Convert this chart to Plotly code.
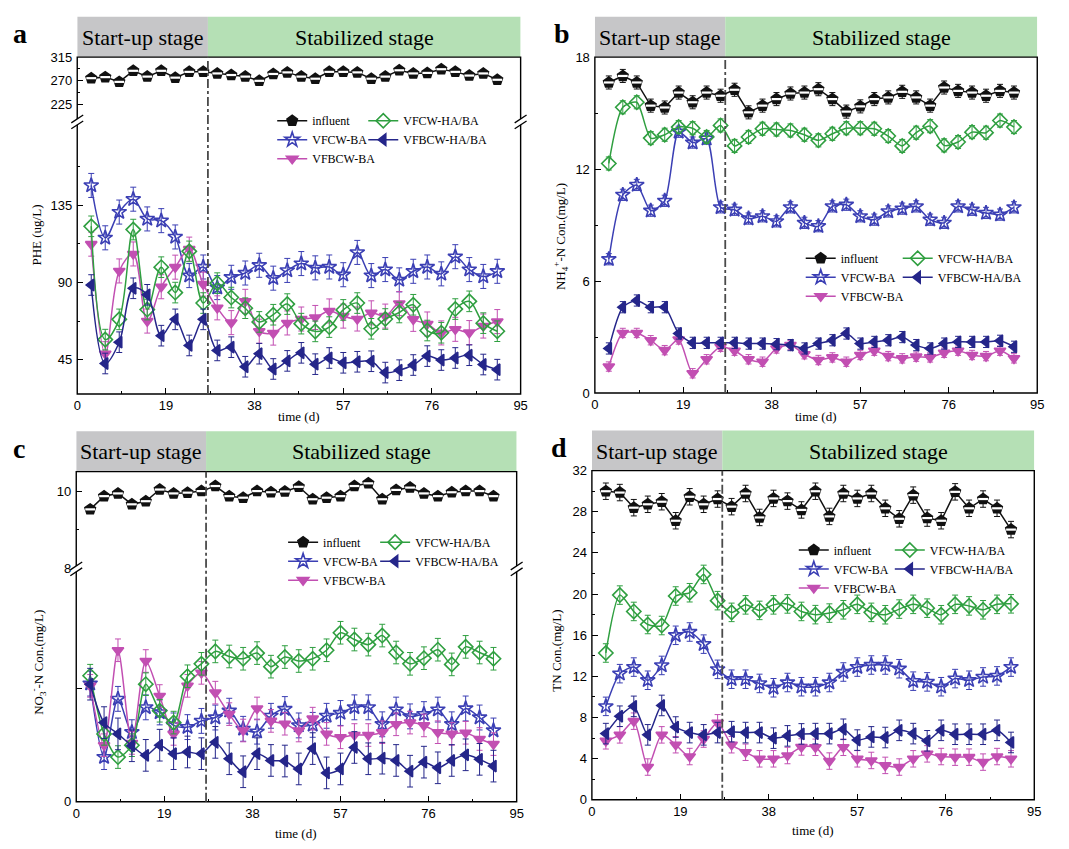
import plotly.graph_objects as go

W, H = 1069, 849
DAYS = list(range(3, 91, 3))
SERIES = ["influent", "VFCW-BA", "VFBCW-BA", "VFCW-HA/BA", "VFBCW-HA/BA"]
XTICKS = [0, 19, 38, 57, 76, 95]
XMINOR = [9.5, 28.5, 47.5, 66.5, 85.5]
STAGE_SPLIT = 28
STAGES = ["Start-up stage", "Stabilized stage"]

# ---------------- panel a : PHE (ug/L) ----------------
A_INF = [275, 277, 268, 289, 278, 289, 276, 287, 287, 284, 281, 278, 270, 283, 286,
         278, 274, 287, 287, 286, 274, 278, 290, 284, 285, 292, 287, 280, 284, 272]
A_BA = [146.5, 116, 131, 138.5, 127, 126, 116.5, 94, 99, 87, 93, 95.5, 100, 92.5, 97,
        101, 98.5, 99, 94.5, 107.5, 94, 97.5, 91.5, 96.5, 99, 95, 105, 97.5, 93.5, 96.5]
A_BCBA = [112.3, 48.5, 96.7, 106.6, 67.5, 87.5, 98.9, 109.4, 89, 75.2, 66.6, 79, 61.6, 60.5, 66.4,
          68.7, 69.6, 73.4, 70.4, 68.7, 72.3, 70.4, 77.7, 68.5, 65.8, 60.6, 62.7, 60.8, 64.6, 67.2]
A_HABA = [122.7, 56.7, 68.5, 120.8, 74.2, 98.9, 84.1, 108.1, 78, 89.6, 81.2, 75, 67, 71.2, 77.4,
          66, 61.5, 64, 74, 78, 63, 68.7, 72.5, 77, 62, 60.7, 74.5, 79, 66.3, 61.6]
A_BCHABA = [88.5, 42.8, 55.2, 86.6, 82.8, 59, 68.5, 53.3, 68.5, 50.4, 52.3, 40.9, 48.5, 39.6, 44.3,
            49, 42.4, 46, 43.2, 43.8, 44.1, 37.5, 38.9, 41.9, 47.1, 44.8, 46, 47.6, 42.2, 39.2]
A_ERR = [3, 7, 7, 6, 6]

# ---------------- panel b : NH4+-N (mg/L) ----------------
B_INF = [16.64, 16.99, 16.64, 15.4, 15.3, 16.1, 15.58, 16.1, 15.93, 16.25, 15.04, 15.4, 15.75, 16.05, 16.1,
         16.28, 15.75, 15.08, 15.36, 15.75, 15.84, 16.14, 15.84, 15.4, 16.37, 16.19, 16.1, 15.93, 16.19, 16.1]
B_BA = [7.17, 10.62, 11.15, 9.77, 10.3, 14.0, 13.42, 13.63, 9.95, 9.82, 9.35, 9.47, 9.2, 9.95, 9.12,
        8.94, 10.0, 10.09, 9.47, 9.29, 9.73, 9.88, 10.0, 9.29, 9.12, 10.0, 9.82, 9.65, 9.56, 9.95]
B_BCBA = [1.42, 3.22, 3.22, 2.83, 2.3, 2.87, 1.06, 1.81, 2.48, 2.27, 1.81, 1.68, 2.39, 2.57, 2.08,
          1.77, 1.91, 1.68, 2.04, 2.27, 1.98, 1.86, 1.95, 1.91, 2.16, 2.27, 2.04, 1.98, 2.27, 1.86]
B_HABA = [12.3, 15.31, 15.58, 13.66, 13.84, 14.25, 14.19, 13.72, 14.34, 13.24, 13.72, 14.16, 14.12, 14.07, 13.84,
          13.54, 13.89, 14.19, 14.19, 14.16, 13.77, 13.24, 13.95, 14.3, 13.27, 13.45, 13.98, 13.95, 14.6, 14.25]
B_BCHABA = [2.39, 4.6, 4.96, 4.6, 4.6, 3.19, 2.69, 2.69, 2.69, 2.69, 2.65, 2.65, 2.62, 2.57, 2.39,
            2.65, 2.83, 3.19, 2.65, 2.74, 2.83, 3.0, 2.57, 2.39, 2.65, 2.74, 2.74, 2.74, 2.8, 2.48]
B_ERR = [0.35, 0.3, 0.25, 0.35, 0.3]

# ---------------- panel c : NO3--N (mg/L) ----------------
C_INF = [9.53, 9.87, 9.94, 9.66, 9.74, 10.04, 9.94, 9.96, 10.0, 10.13, 9.87, 9.83, 10.0, 9.97, 9.99,
         10.11, 9.79, 9.83, 9.87, 10.13, 10.2, 9.79, 10.03, 10.09, 9.94, 9.87, 9.97, 10.0, 10.0, 9.87]
C_BA = [2.09, 0.79, 1.82, 1.23, 1.67, 1.58, 1.35, 1.32, 1.43, 1.49, 1.61, 1.29, 1.24, 1.52, 1.64,
        1.35, 1.36, 1.52, 1.57, 1.67, 1.67, 1.37, 1.63, 1.51, 1.55, 1.63, 1.37, 1.65, 1.49, 1.26]
C_BCBA = [2.05, 1.0, 2.68, 1.04, 2.49, 1.87, 1.2, 2.05, 2.28, 1.93, 1.55, 1.26, 1.65, 1.43, 1.38,
          1.26, 1.47, 1.2, 1.14, 1.18, 1.18, 1.23, 1.37, 1.4, 1.35, 1.23, 1.2, 1.22, 1.11, 1.02]
C_HABA = [2.23, 1.2, 0.79, 1.0, 2.08, 1.61, 1.4, 2.22, 2.44, 2.66, 2.57, 2.53, 2.63, 2.39, 2.56,
          2.49, 2.53, 2.68, 2.99, 2.87, 2.78, 2.94, 2.64, 2.44, 2.54, 2.69, 2.43, 2.74, 2.64, 2.53]
C_BCHABA = [2.08, 1.4, 1.2, 0.99, 0.82, 1.0, 0.85, 0.88, 0.85, 1.05, 0.76, 0.53, 0.85, 0.73, 0.72,
            0.58, 0.94, 0.51, 0.58, 0.96, 0.76, 0.77, 0.73, 0.54, 0.7, 0.6, 0.73, 0.83, 0.75, 0.63]
C_ERR = [0.08, 0.22, 0.2, 0.2, 0.28]

# ---------------- panel d : TN (mg/L) ----------------
D_INF = [30.0, 29.87, 28.4, 28.73, 28.98, 27.13, 29.46, 28.73, 29.24, 28.5, 29.78, 27.45, 29.3, 29.04, 28.18,
         30.0, 27.55, 29.78, 29.3, 29.78, 28.34, 27.32, 29.62, 27.39, 27.13, 29.94, 28.34, 29.24, 28.34, 26.27]
D_BA = [9.08, 12.26, 12.9, 11.62, 13.06, 15.99, 16.31, 15.13, 12.68, 11.72, 11.72, 11.31, 10.89, 11.4, 10.99,
        10.99, 11.4, 12.42, 12.9, 13.1, 13.1, 12.74, 11.53, 11.46, 10.99, 11.78, 11.62, 11.94, 12.04, 12.9]
D_BCBA = [5.73, 6.31, 7.64, 3.18, 6.31, 5.35, 4.2, 5.9, 7.48, 5.35, 4.62, 3.98, 3.98, 4.3, 5.13,
          5.1, 3.76, 5.1, 3.98, 3.82, 3.34, 3.18, 3.98, 4.46, 4.2, 4.14, 4.14, 3.66, 4.2, 3.98]
D_HABA = [14.27, 19.9, 18.31, 17.04, 16.94, 19.81, 20.13, 21.91, 19.36, 18.22, 18.95, 18.41, 18.95, 19.04, 18.31,
          18.0, 18.15, 18.47, 19.0, 18.22, 17.99, 18.54, 19.0, 18.63, 17.99, 19.0, 18.85, 18.47, 19.0, 19.05]
D_BCHABA = [6.43, 8.12, 9.08, 6.31, 9.17, 7.07, 6.53, 6.31, 6.53, 6.62, 6.53, 6.53, 5.99, 6.21, 6.4,
            6.43, 6.43, 6.85, 5.8, 6.11, 6.05, 6.75, 6.43, 5.73, 6.75, 6.37, 6.37, 6.37, 6.75, 5.57]
D_ERR = [0.8, 0.9, 0.8, 0.9, 1.0]

COLORS = {"influent": "#111111", "VFCW-BA": "#3b3fb4", "VFBCW-BA": "#c24fb2",
          "VFCW-HA/BA": "#2f9f40", "VFBCW-HA/BA": "#25268a"}
SYMBOLS = {"influent": "pentagon", "VFCW-BA": "star-open", "VFBCW-BA": "triangle-down",
           "VFCW-HA/BA": "diamond-open", "VFBCW-HA/BA": "triangle-left"}
SIZES = {"influent": 11, "VFCW-BA": 11, "VFBCW-BA": 10, "VFCW-HA/BA": 11, "VFBCW-HA/BA": 10}

SERIF = "Liberation Serif, Times New Roman, serif"
SANS = "Liberation Sans, Arial, sans-serif"
TICKFONT = dict(family=SANS, size=13, color="black")


def fx(px):
    return px / W


def fy(py):
    return 1 - py / H


panels = [
    dict(letter="a", xa="x", ya_inf="y2", ya_eff="y", box=(74, 51, 522, 394), brk=117,
         data=[A_INF, A_BA, A_BCBA, A_HABA, A_BCHABA], err=A_ERR, legs=("legend", "legend2"),
         leg=(271, 363, 101), smooth=1.0, ytitle="PHE (ug/L)", ytitle_pos=(33, 232), xtitle_y=417),
    dict(letter="b", xa="x2", ya_inf="y3", ya_eff="y3", box=(597, 51, 1044, 393), brk=None,
         data=[B_INF, B_BA, B_BCBA, B_HABA, B_BCHABA], err=B_ERR, legs=("legend3", "legend4"),
         leg=(805, 903, 241), smooth=0.7, ytitle="NH<sub>4</sub><sup>+</sup>-N Con.(mg/L)",
         ytitle_pos=(562, 234), xtitle_y=417),
    dict(letter="c", xa="x3", ya_inf="y5", ya_eff="y4", box=(73, 473, 518, 809), brk=572,
         data=[C_INF, C_BA, C_BCBA, C_HABA, C_BCHABA], err=C_ERR, legs=("legend5", "legend6"),
         leg=(282, 375, 530), smooth=0.8, ytitle="NO<sub>3</sub><sup>-</sup>-N Con.(mg/L)",
         ytitle_pos=(35, 667), xtitle_y=841),
    dict(letter="d", xa="x4", ya_inf="y6", ya_eff="y6", box=(594, 472, 1041, 807), brk=None,
         data=[D_INF, D_BA, D_BCBA, D_HABA, D_BCHABA], err=D_ERR, legs=("legend7", "legend8"),
         leg=(798, 895, 538), smooth=0.7, ytitle="TN Con.(mg/L)", ytitle_pos=(558, 655), xtitle_y=838),
]

fig = go.Figure()

for p in panels:
    for name, vals, e in zip(SERIES, p["data"], p["err"]):
        col = COLORS[name]
        yax = p["ya_inf"] if name == "influent" else p["ya_eff"]
        leg = p["legs"][0] if name in ("influent", "VFCW-BA", "VFBCW-BA") else p["legs"][1]
        fig.add_trace(go.Scatter(
            x=DAYS, y=vals, xaxis=p["xa"], yaxis=yax, name=name, legend=leg,
            mode="lines+markers",
            line=dict(color=col, width=1.5,
                      shape="linear" if name == "influent" else "spline",
                      smoothing=p["smooth"]),
            marker=dict(symbol=SYMBOLS[name], size=SIZES[name], color=col,
                        line=dict(color=col, width=1.6)),
            error_y=dict(type="constant", value=e, color=col, thickness=1, width=3),
            cliponaxis=False,
        ))
        if name == "influent":
            fig.add_trace(go.Scatter(
                x=DAYS, y=vals, xaxis=p["xa"], yaxis=yax, mode="markers", showlegend=False,
                hoverinfo="skip",
                marker=dict(symbol="line-ew", size=7, line=dict(color="white", width=2.2)),
                cliponaxis=False,
            ))


def xaxis_cfg(domain, anchor):
    return dict(domain=domain, anchor=anchor, range=[0, 95], tickmode="array", tickvals=XTICKS,
                ticks="inside", ticklen=6, tickwidth=1.2, tickcolor="black",
                minor=dict(tickmode="array", tickvals=XMINOR, ticks="inside", ticklen=3,
                           tickwidth=1, tickcolor="black"),
                showgrid=False, zeroline=False, showline=False, tickfont=TICKFONT,
                ticklabelstandoff=2)


def yaxis_cfg(domain, anchor, rng, major, minor, text=None):
    d = dict(domain=domain, anchor=anchor, range=rng, tickmode="array", tickvals=major,
             ticks="inside", ticklen=6, tickwidth=1.2, tickcolor="black",
             showgrid=False, zeroline=False, showline=False, tickfont=TICKFONT,
             ticklabelstandoff=4)
    if text is not None:
        d["ticktext"] = text
    if minor:
        d["minor"] = dict(tickmode="array", tickvals=minor, ticks="inside", ticklen=3,
                          tickwidth=1, tickcolor="black")
    return d


layout = dict(
    width=W, height=H, margin=dict(l=0, r=0, t=0, b=0),
    paper_bgcolor="white", plot_bgcolor="white", showlegend=True,
    xaxis=xaxis_cfg([fx(74), fx(522)], "y"),
    yaxis=yaxis_cfg([fy(394), fy(117)], "x", [25, 183.5], [45, 90, 135], [67.5, 112.5, 157.5]),
    yaxis2=yaxis_cfg([fy(117), fy(51)], "x", [192, 315], [225, 270, 315], [247.5, 292.5]),
    xaxis2=xaxis_cfg([fx(597), fx(1044)], "y3"),
    yaxis3=yaxis_cfg([fy(393), fy(51)], "x2", [0, 18], [0, 6, 12, 18], [3, 9, 15]),
    xaxis3=xaxis_cfg([fx(73), fx(518)], "y4"),
    yaxis4=yaxis_cfg([fy(809), fy(572)], "x3", [0, 4.12], [0, 2], None, ["0", ""]),
    yaxis5=yaxis_cfg([fy(572), fy(473)], "x3", [8, 10.5], [8, 10], [9]),
    xaxis4=xaxis_cfg([fx(594), fx(1041)], "y6"),
    yaxis6=yaxis_cfg([fy(807), fy(472)], "x4", [0, 32], list(range(0, 33, 4)), list(range(2, 31, 4))),
)

LEGFONT = dict(family=SERIF, size=12, color="black")
for p in panels:
    x1, x2, ytop = p["leg"]
    for lname, lx in zip(p["legs"], (x1, x2)):
        layout[lname] = dict(x=fx(lx), y=fy(ytop), xanchor="left", yanchor="top",
                             bgcolor="rgba(0,0,0,0)", font=LEGFONT, tracegroupgap=0,
                             itemwidth=30, orientation="v")


def note(**kw):
    kw.setdefault("xref", "paper")
    kw.setdefault("yref", "paper")
    kw.setdefault("showarrow", False)
    kw.setdefault("xanchor", "center")
    kw.setdefault("yanchor", "middle")
    return kw


shapes = []
annotations = []
for p in panels:
    l, t, r, b = p["box"]
    # stage header bars
    shapes.append(dict(type="rect", xref=p["xa"], yref="paper", x0=0, x1=STAGE_SPLIT,
                       y0=fy(t), y1=fy(t - 41), fillcolor="#c6c6c8", line=dict(width=0), layer="below"))
    shapes.append(dict(type="rect", xref=p["xa"], yref="paper", x0=STAGE_SPLIT, x1=95,
                       y0=fy(t), y1=fy(t - 41), fillcolor="#b5e0b5", line=dict(width=0), layer="below"))
    annotations.append(note(xref=p["xa"], x=STAGE_SPLIT / 2, y=fy(t - 20), text=STAGES[0],
                            font=dict(family=SERIF, size=22, color="black")))
    annotations.append(note(xref=p["xa"], x=(STAGE_SPLIT + 95) / 2, y=fy(t - 20), text=STAGES[1],
                            font=dict(family=SERIF, size=22, color="black")))
    # frame
    shapes.append(dict(type="rect", xref="paper", yref="paper", x0=fx(l), x1=fx(r), y0=fy(b), y1=fy(t),
                       line=dict(color="black", width=1.4)))
    # stage divider
    shapes.append(dict(type="line", xref=p["xa"], yref="paper", x0=STAGE_SPLIT, x1=STAGE_SPLIT,
                       y0=fy(b), y1=fy(t), line=dict(color="#4a4a4a", width=1.8, dash="dashdot")))
    # axis break marks
    if p["brk"] is not None:
        yb = p["brk"]
        for xs in (l, r):
            shapes.append(dict(type="rect", xref="paper", yref="paper", x0=fx(xs - 2), x1=fx(xs + 2),
                               y0=fy(yb + 3), y1=fy(yb - 3), fillcolor="white", line=dict(width=0)))
            for dy in (-3, 3):
                shapes.append(dict(type="line", xref="paper", yref="paper",
                                   x0=fx(xs - 6), y0=fy(yb + dy + 4), x1=fx(xs + 6), y1=fy(yb + dy - 4),
                                   line=dict(color="black", width=1.3)))
    # panel letter
    annotations.append(note(x=fx(l - 58 if p["letter"] in "ac" else l - 33), y=fy(t - 24),
                            text="<b>%s</b>" % p["letter"],
                            font=dict(family=SERIF, size=28, color="black")))
    # axis titles
    tx, ty = p["ytitle_pos"]
    annotations.append(note(x=fx(tx), y=fy(ty), text=p["ytitle"], textangle=-90,
                            font=dict(family=SERIF, size=13, color="black")))
    annotations.append(note(x=fx((l + r) / 2), y=fy(p["xtitle_y"]), text="time (d)",
                            font=dict(family=SERIF, size=13, color="black")))

layout["shapes"] = shapes
layout["annotations"] = annotations
fig.update_layout(**layout)
fig.write_html("out.html")
